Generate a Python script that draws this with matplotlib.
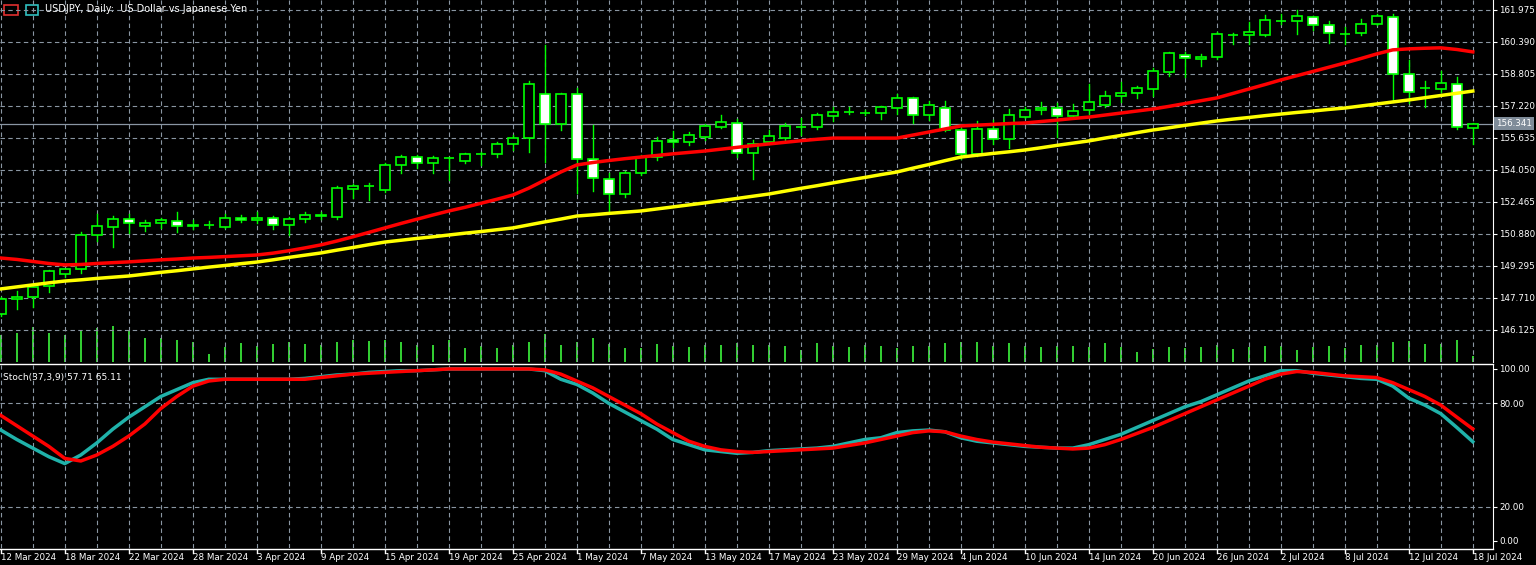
import numpy as np
import matplotlib
matplotlib.use("Agg")
import matplotlib.pyplot as plt
from matplotlib.patches import Rectangle

# daily candles USDJPY, 12 Mar 2024 .. 18 Jul 2024
opens = [146.92,147.66,147.76,148.30,148.90,149.15,150.83,151.23,151.62,151.28,151.43,151.52,151.30,151.33,151.23,151.67,
         151.57,151.67,151.33,151.62,151.80,151.72,153.11,153.24,153.06,154.30,154.69,154.40,154.62,154.50,154.83,154.84,
         155.34,155.64,157.81,156.33,157.81,154.59,153.60,152.86,153.90,154.69,155.54,155.44,155.68,156.18,156.38,154.89,
         155.44,155.64,156.20,156.18,156.72,156.90,156.86,156.87,157.12,157.62,156.77,157.12,156.03,154.84,156.08,155.59,
         156.68,157.02,157.12,156.72,157.02,157.27,157.72,157.86,158.06,158.90,159.75,159.55,159.65,160.74,160.74,160.74,
         161.42,161.43,161.63,161.23,160.80,160.84,161.28,161.63,158.81,158.10,158.06,158.31,156.13]
highs = [147.76,148.06,148.30,149.10,149.15,150.98,151.87,151.77,151.87,151.57,151.67,151.97,151.57,151.52,151.87,151.82,
         151.97,151.77,151.72,151.97,151.97,153.26,153.35,153.41,154.40,154.79,154.79,154.74,154.69,154.89,154.94,155.44,
         155.78,158.46,160.24,157.86,158.11,156.28,153.90,154.00,154.79,155.68,155.98,155.93,156.33,156.77,156.58,155.54,
         156.03,156.38,156.63,156.87,157.17,157.17,157.02,157.22,157.81,157.67,157.47,157.47,156.13,156.48,156.53,157.07,
         157.17,157.42,157.37,157.32,158.31,157.96,158.41,158.21,159.10,159.89,159.89,159.80,160.89,160.84,161.38,161.73,
         161.78,161.98,161.68,161.43,161.13,161.53,161.78,161.78,159.50,158.46,158.95,158.66,156.38]
lows = [146.82,147.17,147.27,148.01,148.75,148.95,150.53,150.24,150.93,151.03,151.18,150.98,151.13,151.18,151.18,151.47,
        151.43,151.13,150.83,151.47,151.62,151.62,152.66,152.56,152.96,153.90,154.15,153.90,153.56,154.40,154.30,154.69,
        155.04,154.94,154.45,156.03,152.91,153.01,151.92,152.71,153.80,154.55,155.19,155.29,155.54,156.13,154.69,153.60,
        155.34,155.54,155.78,156.08,156.48,156.82,156.77,156.58,156.82,156.38,156.53,155.98,154.59,154.74,155.34,155.14,
        156.63,156.82,155.68,156.63,156.82,157.17,157.42,157.62,157.72,158.71,158.66,159.20,159.55,160.29,160.29,160.70,
        161.28,160.79,160.98,160.34,160.29,160.74,161.23,157.42,157.37,157.17,157.91,156.08,155.34]
closes = [147.66,147.76,148.26,149.05,149.15,150.83,151.28,151.62,151.43,151.43,151.57,151.28,151.33,151.35,151.67,151.57,
          151.67,151.33,151.62,151.82,151.78,153.16,153.26,153.27,154.30,154.69,154.40,154.64,154.65,154.84,154.85,155.34,
          155.64,158.31,156.33,157.81,154.59,153.65,152.86,153.90,154.69,155.49,155.44,155.78,156.23,156.43,154.89,155.34,
          155.73,156.23,156.18,156.77,156.92,156.93,156.88,157.17,157.62,156.77,157.27,156.03,154.84,156.08,155.59,156.77,
          157.02,157.12,156.72,156.97,157.42,157.72,157.86,158.11,158.95,159.85,159.60,159.65,160.79,160.75,160.89,161.48,
          161.44,161.68,161.23,160.84,160.78,161.28,161.68,158.81,157.91,158.12,158.36,156.18,156.34]
volume = [27,29,35,29,27,32,34,36,31,24,24,22,20,8,15,19,16,18,20,18,17,20,22,21,22,20,17,17,22,14,16,14,
          17,20,28,17,20,24,18,14,14,18,16,15,17,17,19,17,17,16,12,19,16,15,17,16,14,16,16,19,20,20,16,19,
          16,15,16,16,15,19,15,10,13,15,14,15,17,13,15,16,16,12,15,16,14,17,17,20,21,18,18,22,6]
ma_fast = [149.69,149.62,149.52,149.42,149.35,149.37,149.42,149.46,149.50,149.55,149.60,149.64,149.69,149.72,149.76,149.80,
           149.84,149.93,150.05,150.19,150.34,150.53,150.74,150.96,151.18,151.40,151.61,151.82,152.02,152.20,152.40,152.60,
           152.81,153.15,153.55,153.95,154.30,154.42,154.52,154.61,154.69,154.77,154.85,154.92,154.99,155.08,155.17,155.26,
           155.34,155.42,155.50,155.57,155.63,155.63,155.63,155.63,155.63,155.78,155.93,156.08,156.23,156.27,156.31,156.35,
           156.38,156.45,156.52,156.60,156.67,156.77,156.87,156.97,157.07,157.20,157.34,157.48,157.62,157.84,158.06,158.28,
           158.51,158.72,158.93,159.14,159.35,159.57,159.80,160.00,160.05,160.08,160.10,160.02,159.90]
ma_slow = [148.16,148.26,148.36,148.46,148.55,148.61,148.68,148.74,148.80,148.89,148.98,149.06,149.15,149.24,149.32,149.41,
           149.49,149.60,149.72,149.83,149.94,150.08,150.21,150.35,150.48,150.57,150.66,150.74,150.83,150.92,151.00,151.09,
           151.18,151.33,151.48,151.62,151.77,151.83,151.90,151.96,152.02,152.12,152.22,152.32,152.42,152.53,152.64,152.75,
           152.86,153.00,153.14,153.27,153.41,153.55,153.68,153.82,153.95,154.14,154.32,154.51,154.69,154.78,154.87,154.95,
           155.04,155.15,155.27,155.38,155.49,155.63,155.76,155.90,156.03,156.14,156.26,156.37,156.48,156.57,156.65,156.74,
           156.82,156.90,156.97,157.05,157.12,157.22,157.32,157.42,157.52,157.63,157.74,157.85,157.96]
stoch_main = [64.5,59,54,49,45,50,57,65,72,78,84,88,92,94,94,94,94,94,94,94.5,95.5,96.5,97,98,98.5,99,99,99.5,100,100,100,100,
              100,100,99,94,91,86,80,75,70,65,59,56,53,52,51,51.5,52.5,53,53.5,54,55,57,59,60,63,64,64.5,63.5,60,58,
              57,56,55,54.5,54,54,56,59,62,66,70,74,78,81,85,89,93,96,99,99,97.5,96.5,95.5,94.5,94,90,83,79,74,66,57.71]
stoch_signal = [73,67,61,55,48,46.5,50,55,61,68,77,84,90,93,94,94,94,94,94,94,95,96,97,97.5,98,98.5,99,99.5,100,100,100,100,
                100,100,99.5,97,93,89,84,79,74,68,63,58,55,53,52,51.5,52,52.5,53,53.5,54,55.5,57,59,61,63,64,63.5,61,59,
                57.5,56.5,55.5,54.5,54,53.5,54,56,59,62.5,66,70,74,78,82,86,90,94,97,98.5,98,97,96,95.5,95,92,88,84,79,72,65.11]
date_labels = ["12 Mar 2024","18 Mar 2024","22 Mar 2024","28 Mar 2024","3 Apr 2024","9 Apr 2024","15 Apr 2024",
               "19 Apr 2024","25 Apr 2024","1 May 2024","7 May 2024","13 May 2024","17 May 2024","23 May 2024",
               "29 May 2024","4 Jun 2024","10 Jun 2024","14 Jun 2024","20 Jun 2024","26 Jun 2024","2 Jul 2024",
               "8 Jul 2024","12 Jul 2024","18 Jul 2024"]
price_ticks = [161.975,160.390,158.805,157.220,155.635,154.050,152.465,150.880,149.295,147.710,146.125]
last_price = 156.341

W, H = 1536, 565
fig = plt.figure(figsize=(W/100, H/100), dpi=100, facecolor="black")
right = 1493
GRID = "#8a96a3"
GREEN = "#00ff00"
x = np.arange(len(closes))
xlim = (-0.05, right/16 - 0.05)

def axes_px(top, bottom):
    return fig.add_axes([0, 1 - bottom/H, right/W, (bottom - top)/H])

ax = axes_px(0, 362)
vol = ax.twinx()
vol.set_ylim(0, 362)
vol.axis("off")
vol.bar(x, volume, width=0.13, color="#32cd32")
ax.set_zorder(vol.get_zorder() + 1)
ax.patch.set_visible(False)
vol.patch.set_facecolor("black")
vol.patch.set_visible(True)

axs = axes_px(365, 548)
for a in (ax, axs, vol):
    a.set_xlim(*xlim)
for a in (ax, axs):
    for s in a.spines.values():
        s.set_visible(False)
    a.spines["right"].set_visible(True)
    a.spines["right"].set_color("white")
    a.tick_params(axis="y", left=False, labelleft=False, right=True, labelright=True,
                  colors="white", labelsize=6.3, length=3, pad=1.5)
    a.tick_params(axis="x", length=0, labelbottom=False)
    a.set_xticks(x[::2])
    a.grid(True, color=GRID, linestyle=(0, (4, 3)), linewidth=0.8)
    a.set_axisbelow(True)
axs.set_facecolor("black")

# price panel
ax.set_ylim(144.54, 162.47)
ax.set_yticks(price_ticks)
ax.set_yticklabels([f"{t:.3f}" for t in price_ticks])

for i in x:
    o, h, l, c = opens[i], highs[i], lows[i], closes[i]
    ax.plot([i, i], [l, h], color=GREEN, lw=1, zorder=3)
    bot, top = min(o, c), max(o, c)
    fill = "black" if c >= o else "white"
    ax.add_patch(Rectangle((i - 0.3, bot), 0.6, max(top - bot, 0.02), facecolor=fill,
                           edgecolor=GREEN, lw=1.2, zorder=4))

ax.plot(x, ma_fast, color="red", lw=2.5, zorder=5)
ax.plot(x, ma_slow, color="yellow", lw=2.5, zorder=5)
ax.axhline(last_price, color=GRID, lw=0.9, zorder=2)
ax.text(1.002, (last_price - 144.54) / (162.47 - 144.54), f"{last_price:.3f}", transform=ax.transAxes,
        color="white", fontsize=6.3, va="center", ha="left",
        bbox=dict(boxstyle="square,pad=0.2", fc="#7f8c99", ec="none"))
ax.text(0.03, 0.975, "USDJPY, Daily:  US Dollar vs Japanese Yen", transform=ax.transAxes,
        color="white", fontsize=7, va="center")
# terminal icons at top left
fig.add_artist(Rectangle((4/W, 1 - 15/H), 14/W, 10/H, transform=fig.transFigure, fc="none", ec="#e03030", lw=1.2))
fig.add_artist(Rectangle((26/W, 1 - 15/H), 12/W, 10/H, transform=fig.transFigure, fc="none", ec="#30c0c0", lw=1.2))

# stochastic panel
axs.set_ylim(-4.07, 102.3)
axs.set_yticks([100, 80, 20, 0])
axs.set_yticklabels(["100.00", "80.00", "20.00", "0.00"])
axs.grid(False, axis="y")
for lvl in (80, 20):
    axs.axhline(lvl, color=GRID, linestyle=(0, (4, 3)), lw=0.8)
axs.plot(x, stoch_main, color="#20b2aa", lw=2.5)
axs.plot(x, stoch_signal, color="red", lw=2.5)
axs.text(0.002, 0.92, "Stoch(37,3,9) 57.71 65.11", transform=axs.transAxes, color="white", fontsize=6.5)

# separators and bottom axis
fig.add_artist(plt.Line2D([0, right/W], [1 - 363.5/H] * 2, color="white", lw=1))
fig.add_artist(plt.Line2D([0, right/W], [1 - 549/H] * 2, color="white", lw=1))
for k, lab in enumerate(date_labels):
    xi = 4 * k
    xf = (xi - xlim[0]) / (xlim[1] - xlim[0]) * right / W
    fig.add_artist(plt.Line2D([xf, xf], [1 - 549/H, 1 - 553/H], color="white", lw=1))
    fig.text(xf, 1 - 557/H, lab, color="white", fontsize=6.3, va="center", ha="left")

fig.savefig("out.png", dpi=100, facecolor="black")
